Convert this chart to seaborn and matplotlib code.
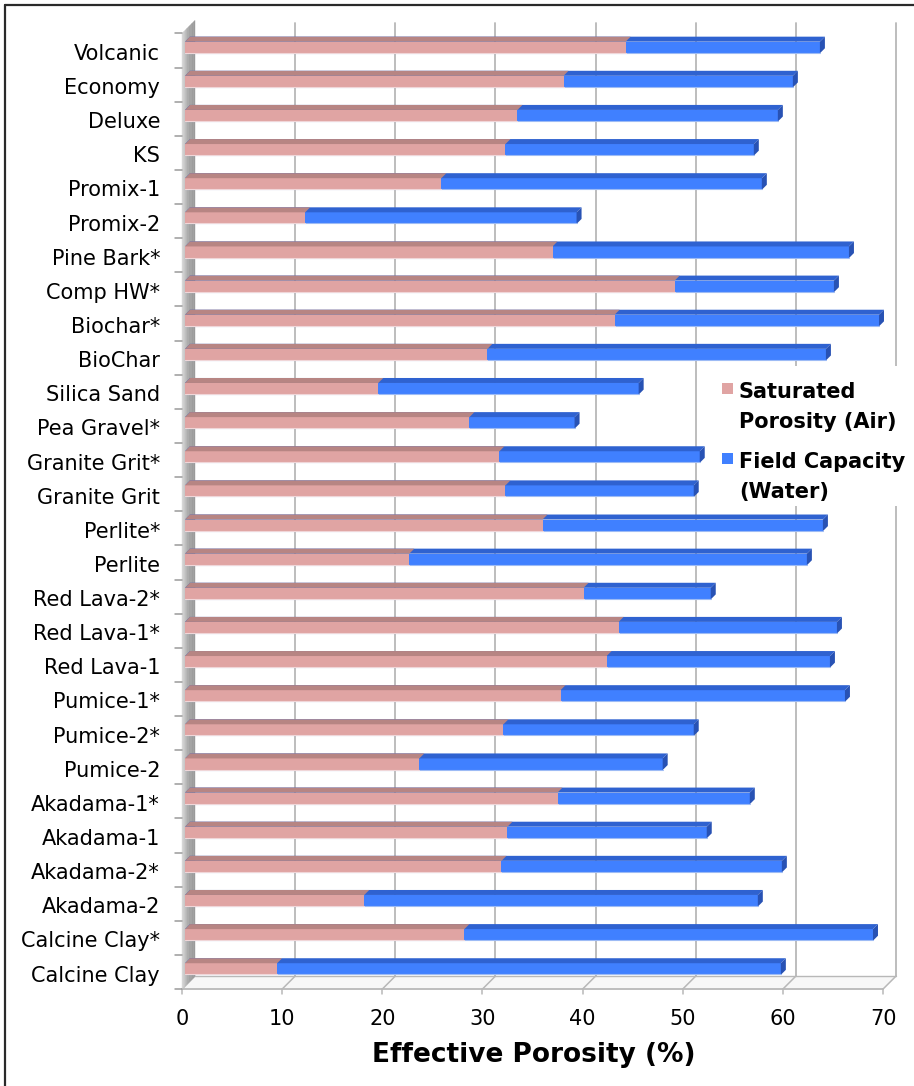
import numpy as np
import pandas as pd
import matplotlib
matplotlib.use("Agg")
import matplotlib.pyplot as plt
import seaborn as sns
from matplotlib.patches import Polygon, Rectangle
from matplotlib.lines import Line2D
from matplotlib.transforms import ScaledTranslation

# ---- data -------------------------------------------------------------
materials = [
    "Volcanic", "Economy", "Deluxe", "KS", "Promix-1", "Promix-2",
    "Pine Bark*", "Comp HW*", "Biochar*", "BioChar", "Silica Sand",
    "Pea Gravel*", "Granite Grit*", "Granite Grit", "Perlite*", "Perlite",
    "Red Lava-2*", "Red Lava-1*", "Red Lava-1", "Pumice-1*", "Pumice-2*",
    "Pumice-2", "Akadama-1*", "Akadama-1", "Akadama-2*", "Akadama-2",
    "Calcine Clay*", "Calcine Clay",
]
# saturated porosity (air-filled) and field capacity (water-filled), %
air = [44.0, 37.8, 33.2, 32.0, 25.6, 12.0, 36.7, 48.9, 42.9, 30.2, 19.3,
       28.4, 31.4, 32.0, 35.7, 22.4, 39.8, 43.3, 42.1, 37.5, 31.8, 23.4,
       37.2, 32.2, 31.6, 17.9, 27.9, 9.2]
water = [19.4, 22.9, 26.0, 24.8, 32.0, 27.1, 29.6, 15.9, 26.4, 33.8, 26.0,
         10.5, 20.0, 18.8, 28.0, 39.7, 12.7, 21.8, 22.3, 28.4, 19.0, 24.3,
         19.2, 19.9, 28.0, 39.3, 40.8, 50.3]
x_ticks = [0, 10, 20, 30, 40, 50, 60, 70]
legend_labels = [["Saturated", "Porosity (Air)"], ["Field Capacity", "(Water)"]]
x_title = "Effective Porosity (%)"

df = pd.DataFrame({"material": materials, "air": air, "water": water})
df["total"] = df["air"] + df["water"]
n = len(df)

# ---- style ------------------------------------------------------------
sns.set_theme(style="white")
plt.rcParams["font.family"] = ["DejaVu Sans"]

PINK, PINK_TOP, PINK_EDGE = "#E0A4A3", "#B78583", "#F0D6D8"
BLUE, BLUE_TOP, BLUE_SIDE, BLUE_EDGE = "#4080FF", "#2F62D0", "#2852B4", "#9DBBF5"
GRID = "#B8B8B8"

W, H = 914, 1086
fig = plt.figure(figsize=(W / 100, H / 100), dpi=100)
fig.patch.set_facecolor("white")

# plotting plane of the bar faces, in pixels
left_px, right_px, top_px, bot_px = 185.0, 886.0, 30.4, 986.1
ax = fig.add_axes([left_px / W, 1 - bot_px / H,
                   (right_px - left_px) / W, (bot_px - top_px) / H])

sns.barplot(data=df, y="material", x="total", color=BLUE, saturation=1,
            width=0.34, orient="h", errorbar=None, ax=ax, zorder=3,
            linewidth=0)
sns.barplot(data=df, y="material", x="air", color=PINK, saturation=1,
            width=0.34, orient="h", errorbar=None, ax=ax, zorder=4,
            linewidth=0)

ax.set_xlim(0, 70)
ax.set_ylim(n - 0.5, -0.5)
ax.patch.set_visible(False)
for s in ax.spines.values():
    s.set_visible(False)
ax.grid(False)

# pixel sizes of one data unit, used for the depth (3-D) offsets
sx = (right_px - left_px) / 70.0
sy = (bot_px - top_px) / n


def shift(x, y, d):
    """Move a data point d pixels along the depth direction (up-right)."""
    return x + d / sx, y - d / sy


FRONT, BACK, DEPTH = -3.0, 10.0, 5.0
y_floor = n - 0.5
y_top = -0.5

# back wall gridlines
for t in x_ticks[1:]:
    xb0, yb0 = shift(t, y_floor, BACK)
    _, yb1 = shift(t, y_top, BACK - 2.6)
    ax.add_line(Line2D([xb0, xb0], [yb0, yb1], color=GRID, lw=1.3,
                       clip_on=False, zorder=1))

# floor
f0 = shift(0, y_floor, FRONT)
f1 = shift(70, y_floor, FRONT)
b1 = shift(70, y_floor, BACK)
b0 = shift(0, y_floor, BACK)
ax.add_patch(Polygon([f0, f1, b1, b0], closed=True, facecolor="#F7F7F7",
                     edgecolor="none", clip_on=False, zorder=0.5))
ax.add_line(Line2D([f0[0], f1[0]], [f0[1], f1[1]], color=GRID, lw=1.3,
                   clip_on=False, zorder=1))
ax.add_line(Line2D([b0[0], b1[0]], [b0[1], b1[1]], color=GRID, lw=1.0,
                   clip_on=False, zorder=1))
for t in x_ticks:
    p = shift(t, y_floor, FRONT)
    q = shift(t, y_floor, BACK)
    ax.add_line(Line2D([p[0], q[0]], [p[1], q[1]], color=GRID, lw=1.1,
                       clip_on=False, zorder=1))
    ax.add_line(Line2D([p[0], p[0]], [p[1], p[1] + 5 / sy], color=GRID,
                       lw=1.1, clip_on=False, zorder=1))

# left wall, shaded across its depth
steps = 8
wall_cols = sns.blend_palette(["#D6D6D6", "#A6A6A6", "#9A9A9A"], steps)
for k in range(steps):
    d0 = FRONT + (BACK - FRONT) * k / steps
    d1 = FRONT + (BACK - FRONT) * (k + 1) / steps
    pts = [shift(0, y_floor, d0), shift(0, y_top, d0),
           shift(0, y_top, d1), shift(0, y_floor, d1)]
    ax.add_patch(Polygon(pts, closed=True, facecolor=wall_cols[k],
                         edgecolor=wall_cols[k], lw=0.3, clip_on=False,
                         zorder=2))
# left wall ticks at the category boundaries
for b in np.arange(n + 1) - 0.5:
    p = shift(0, b, FRONT)
    ax.add_line(Line2D([p[0] - 7 / sx, p[0]], [p[1], p[1]], color="#9A9A9A",
                       lw=1.1, clip_on=False, zorder=2))

# top faces, end caps and lower highlight of the bars
blue_bars = ax.containers[0]
pink_bars = ax.containers[1]
for rect in blue_bars:
    x0, w = rect.get_x(), rect.get_width()
    yt, h = rect.get_y(), rect.get_height()
    x1, yb = x0 + w, yt + h
    ax.add_patch(Polygon([(x0, yt), (x1, yt), shift(x1, yt, DEPTH),
                          shift(x0, yt, DEPTH)], closed=True,
                         facecolor=BLUE_TOP, edgecolor="none", zorder=3.5,
                         clip_on=False))
    ax.add_patch(Polygon([(x1, yt), (x1, yb), shift(x1, yb, DEPTH),
                          shift(x1, yt, DEPTH)], closed=True,
                         facecolor=BLUE_SIDE, edgecolor="none", zorder=3.5,
                         clip_on=False))
    ax.add_line(Line2D([x0, x1], [yb - 0.5 / sy, yb - 0.5 / sy],
                       color=BLUE_EDGE, lw=0.8, zorder=3.6, clip_on=False))
for rect in pink_bars:
    x0, w = rect.get_x(), rect.get_width()
    yt, h = rect.get_y(), rect.get_height()
    x1, yb = x0 + w, yt + h
    ax.add_patch(Polygon([(x0, yt), (x1, yt), shift(x1, yt, DEPTH),
                          shift(x0, yt, DEPTH)], closed=True,
                         facecolor=PINK_TOP, edgecolor="none", zorder=4.5,
                         clip_on=False))
    ax.add_line(Line2D([x0, x1], [yb - 0.5 / sy, yb - 0.5 / sy],
                       color=PINK_EDGE, lw=0.8, zorder=4.6, clip_on=False))

# axis labels
ax.set_yticks(range(n))
ax.set_yticklabels(materials, fontsize=15, color="black")
ax.tick_params(axis="y", length=0, pad=18)
for lbl in ax.get_yticklabels():
    lbl.set_transform(lbl.get_transform() +
                      ScaledTranslation(0, -4.5 / 100, fig.dpi_scale_trans))
ax.set_xticks(x_ticks)
ax.set_xticklabels([str(t) for t in x_ticks], fontsize=15, color="black")
ax.tick_params(axis="x", length=0, pad=16.5)
for lbl in ax.get_xticklabels():
    lbl.set_transform(lbl.get_transform() +
                      ScaledTranslation(-3 / 100, 0, fig.dpi_scale_trans))
ax.set_ylabel("")
ax.set_xlabel(x_title, fontsize=19, fontweight="bold", color="black")
ax.xaxis.label.set_va("center")
ax.xaxis.set_label_coords(0.497, (bot_px - 1055) / (bot_px - top_px))


def fx(x):
    return x / W


def fy(y):
    return 1 - y / H


# legend
fig.patches.append(Rectangle((fx(708), fy(506)), (914 - 708) / W,
                             (506 - 366) / H, transform=fig.transFigure,
                             facecolor="white", edgecolor="none", zorder=5))
for (lines, col, y0) in [(legend_labels[0], PINK, 383),
                         (legend_labels[1], BLUE, 453)]:
    fig.patches.append(Rectangle((fx(722), fy(y0 + 11)), 11 / W, 11 / H,
                                 transform=fig.transFigure, facecolor=col,
                                 edgecolor="none", zorder=6))
    for i, line in enumerate(lines):
        fig.text(fx(739), fy(y0 + 15 + 30 * i), line, fontsize=15,
                 fontweight="bold", color="black", va="baseline", ha="left",
                 zorder=7)

# outer frame
fig.add_artist(Line2D([fx(5), 1.0], [fy(5), fy(5)], color="#2A2A2A",
                      lw=1.6, transform=fig.transFigure))
fig.add_artist(Line2D([fx(5), fx(5)], [fy(5), 0.0], color="#2A2A2A",
                      lw=1.6, transform=fig.transFigure))

fig.savefig("out.png", dpi=100, facecolor="white")
